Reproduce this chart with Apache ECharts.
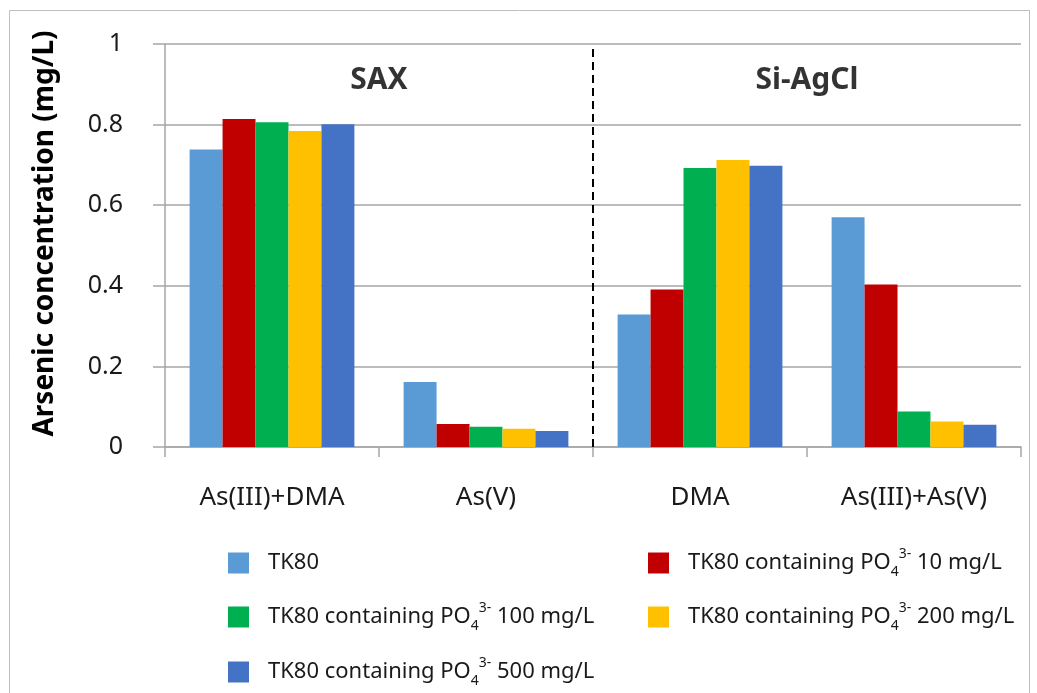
<!DOCTYPE html>
<html>
<head>
<meta charset="utf-8">
<script src="https://cdn.jsdelivr.net/npm/echarts@6/dist/echarts.min.js"></script>
<style>html,body{margin:0;padding:0;background:#fff}#c{width:1037px;height:693px}</style>
</head>
<body>
<div id="c"></div>
<script>
const categories = ['As(III)+DMA', 'As(V)', 'DMA', 'As(III)+As(V)'];
const seriesNames = ['TK80', 'TK80 containing PO4 3- 10 mg/L', 'TK80 containing PO4 3- 100 mg/L', 'TK80 containing PO4 3- 200 mg/L', 'TK80 containing PO4 3- 500 mg/L'];
const tk80 = [0.738, 0.161, 0.329, 0.570];
const po10 = [0.814, 0.057, 0.391, 0.403];
const po100 = [0.806, 0.050, 0.692, 0.088];
const po200 = [0.784, 0.045, 0.712, 0.063];
const po500 = [0.801, 0.040, 0.698, 0.055];
const panelLabels = ['SAX', 'Si-AgCl'];
const panelLabelPos = [[1, 0.91], [3, 0.91]];
const dividerLine = [[2, 0], [2, 1]];
const yTicks = [0, 0.2, 0.4, 0.6, 0.8, 1];

const colors = ['#5B9BD5', '#C00000', '#00B050', '#FFC000', '#4472C4'];
const values = [tk80, po10, po100, po200, po500];
const FONT = 'Noto Sans';

const chart = echarts.init(document.getElementById('c'));

function legendFmt(name) {
  if (name === 'TK80') return name;
  const m = name.match(/^(.*) PO4 3- (.*)$/);
  return m[1] + ' PO{sub|4}{sup|3-} ' + m[2];
}
const richLegend = {
  sub: { fontSize: 14, fontFamily: FONT, color: '#1a1a1a', verticalAlign: 'bottom', lineHeight: 32 },
  sup: { fontSize: 14, fontFamily: FONT, color: '#1a1a1a', verticalAlign: 'top', lineHeight: 32 }
};
const legendPos = [
  { left: 228, top: 547 },
  { left: 648, top: 547 },
  { left: 228, top: 601 },
  { left: 648, top: 601 },
  { left: 228, top: 656 }
];
const legends = seriesNames.map((n, i) => ({
  data: [n],
  left: legendPos[i].left,
  top: legendPos[i].top,
  padding: 0,
  icon: 'rect',
  itemWidth: 21,
  itemHeight: 21,
  formatter: legendFmt,
  textStyle: {
    fontFamily: FONT, fontSize: 22, color: '#1a1a1a',
    padding: [0, 0, 0, 14], lineHeight: 32,
    rich: richLegend
  }
}));

const barSeries = seriesNames.map((n, i) => ({
  name: n,
  type: 'bar',
  data: values[i],
  barGap: '0%',
  barCategoryGap: '23%',
  itemStyle: { color: colors[i] },
  xAxisIndex: 0,
  yAxisIndex: 0
}));

chart.setOption({
  animation: false,
  grid: { left: 165, right: 16, top: 44, bottom: 246, containLabel: false },
  graphic: [{
    type: 'rect', shape: { x: 9.5, y: 10.5, width: 1020, height: 700 },
    style: { fill: 'none', stroke: '#BFBFBF', lineWidth: 1 }, silent: true, z: -10
  }],
  legend: legends,
  xAxis: [{
    type: 'category',
    data: categories,
    axisLine: { show: true, lineStyle: { color: '#A6A6A6', width: 1.5 } },
    axisTick: { show: true, length: 10, lineStyle: { color: '#A6A6A6', width: 1.5 } },
    axisLabel: { fontFamily: FONT, fontSize: 26, color: '#1a1a1a', margin: 38 },
    splitLine: { show: false }
  }, {
    type: 'value', min: 0, max: 4, show: false
  }],
  yAxis: [{
    type: 'value', min: 0, max: 1, interval: 0.2,
    name: 'Arsenic concentration (mg/L)',
    nameLocation: 'middle', nameRotate: 90, nameGap: 106,
    nameTextStyle: { fontFamily: FONT, fontSize: 28, fontWeight: 'bold', color: '#000', padding: [0, 0, 0, 24] },
    axisLine: { show: true, lineStyle: { color: '#A6A6A6', width: 1.5 } },
    axisTick: { show: true, length: 12, inside: false, lineStyle: { color: '#A6A6A6', width: 1.5 } },
    axisLabel: { fontFamily: FONT, fontSize: 25, color: '#1a1a1a', margin: 42, formatter: v => String(parseFloat(v.toFixed(1))) },
    splitLine: { show: true, lineStyle: { color: '#A6A6A6', width: 1.5 } }
  }],
  series: barSeries.concat([
    {
      type: 'line', xAxisIndex: 1, yAxisIndex: 0, data: dividerLine,
      symbol: 'none', silent: true,
      lineStyle: { color: '#000', width: 2, type: [8, 5] }, z: 5
    },
    {
      type: 'scatter', xAxisIndex: 1, yAxisIndex: 0,
      data: panelLabelPos.map((p, i) => ({ value: p, name: panelLabels[i] })),
      symbolSize: 0, silent: true,
      label: { show: true, position: 'inside', formatter: p => p.name, fontFamily: FONT, fontSize: 30, fontWeight: 'bold', color: '#000' }
    }
  ])
});
</script>
</body>
</html>
